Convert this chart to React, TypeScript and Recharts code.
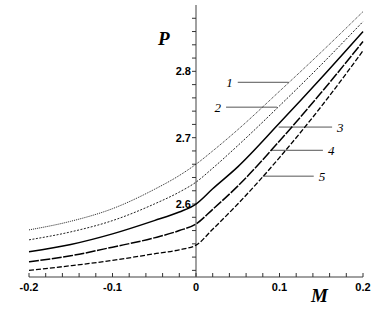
import { LineChart, Line, XAxis, YAxis, ReferenceLine } from 'recharts';

// Mach number (M) and the pressure curves P for the five cases
const mValues = [-0.2, -0.15, -0.1, -0.05, -0.02, 0, 0.02, 0.05, 0.1, 0.15, 0.2];
const curve1 = [2.561, 2.574, 2.593, 2.622, 2.643, 2.66, 2.68, 2.712, 2.77, 2.829, 2.89];
const curve2 = [2.546, 2.558, 2.575, 2.6, 2.618, 2.633, 2.654, 2.688, 2.748, 2.81, 2.875];
const curve3 = [2.528, 2.539, 2.555, 2.575, 2.588, 2.6, 2.623, 2.656, 2.722, 2.79, 2.86];
const curve4 = [2.513, 2.522, 2.535, 2.549, 2.56, 2.57, 2.592, 2.627, 2.695, 2.768, 2.845];
const curve5 = [2.5, 2.507, 2.515, 2.525, 2.531, 2.538, 2.562, 2.6, 2.67, 2.747, 2.831];

const xTicks = [-0.2, -0.18, -0.16, -0.14, -0.12, -0.1, -0.08, -0.06, -0.04, -0.02, 0, 0.02, 0.04, 0.06, 0.08, 0.1, 0.12, 0.14, 0.16, 0.18, 0.2];
const yTicks = [2.5, 2.52, 2.54, 2.56, 2.58, 2.6, 2.62, 2.64, 2.66, 2.68, 2.7, 2.72, 2.74, 2.76, 2.78, 2.8, 2.82, 2.84, 2.86, 2.88];
const xLabels = ['-0.2', '-0.1', '0', '0.1', '0.2'];
const yLabels = ['2.6', '2.7', '2.8'];

// leader lines of the curve numbers: [label, mStart, mEnd, P, side]
const leaders: [string, number, number, number, 'left' | 'right'][] = [
  ['1', 0.05, 0.111, 2.7835, 'left'],
  ['2', 0.036, 0.097, 2.746, 'left'],
  ['3', 0.099, 0.163, 2.716, 'right'],
  ['4', 0.09, 0.152, 2.681, 'right'],
  ['5', 0.08, 0.141, 2.642, 'right'],
];

const data = mValues.map((m, i) => ({
  m,
  c1: curve1[i],
  c2: curve2[i],
  c3: curve3[i],
  c4: curve4[i],
  c5: curve5[i],
}));

const AXIS_GRAY = '#808080';
const TICK_FONT = '"Liberation Sans", Arial, sans-serif';
const TICK_LEN = 0.0048; // 4px in M units

function fmtX(v: number) {
  if (Math.abs(v) < 1e-9) return '0';
  return v.toFixed(1);
}

function XTick(props: any) {
  const { x, y, payload } = props;
  const label = fmtX(payload.value);
  const major = xLabels.includes(label) && Math.abs(payload.value * 10 - Math.round(payload.value * 10)) < 1e-6;
  return (
    <g>
      <line x1={x} x2={x} y1={y} y2={y - 4} stroke="#333" strokeWidth={1} />
      {major && (
        <text x={x} y={y + 14} textAnchor="middle" fontFamily={TICK_FONT} fontWeight="bold" fontSize={11} fill="#000">
          {label}
        </text>
      )}
    </g>
  );
}

export default function App() {
  return (
    <div style={{ position: 'absolute', left: 0, top: 0, background: '#fff' }}>
      <LineChart width={383} height={314} data={data} margin={{ top: 5, right: 20, bottom: 7, left: 29 }}>
        <XAxis
          dataKey="m"
          type="number"
          domain={[-0.2, 0.2]}
          ticks={xTicks}
          interval={0}
          height={30}
          tickSize={0}
          tickMargin={0}
          tickLine={false}
          axisLine={{ stroke: AXIS_GRAY, strokeWidth: 1.5 }}
          tick={<XTick />}
        />
        <YAxis type="number" domain={[2.49, 2.9]} hide />
        <ReferenceLine x={0} stroke={AXIS_GRAY} strokeWidth={1.5} />
        {yTicks.map((v) => {
          const label = v.toFixed(1);
          const major = yLabels.includes(label) && Math.abs(v * 10 - Math.round(v * 10)) < 1e-6;
          return (
            <ReferenceLine
              key={'yt' + v}
              segment={[{ x: -TICK_LEN, y: v }, { x: 0, y: v }]}
              stroke="#333"
              strokeWidth={1}
              label={
                major
                  ? {
                      value: label,
                      position: 'left',
                      offset: 1,
                      fill: '#000',
                      fontSize: 11,
                      fontWeight: 'bold',
                      fontFamily: TICK_FONT,
                    }
                  : undefined
              }
            />
          );
        })}
        {leaders.map(([label, m0, m1, p, side]) => (
          <ReferenceLine
            key={label}
            segment={[{ x: m0, y: p }, { x: m1, y: p }]}
            stroke="#555"
            strokeWidth={1}
            label={{
              value: label,
              position: side,
              offset: 5,
              fill: '#000',
              fontSize: 13,
              fontStyle: 'italic',
              fontFamily: '"Liberation Serif", "Times New Roman", serif',
            }}
          />
        ))}
        <Line dataKey="c1" type="monotone" dot={false} stroke="#222" strokeWidth={1} strokeDasharray="1 1" isAnimationActive={false} />
        <Line dataKey="c2" type="monotone" dot={false} stroke="#222" strokeWidth={1} strokeDasharray="2 1.5" isAnimationActive={false} />
        <Line dataKey="c3" type="monotone" dot={false} stroke="#000" strokeWidth={1.5} isAnimationActive={false} />
        <Line dataKey="c4" type="monotone" dot={false} stroke="#000" strokeWidth={1.5} strokeDasharray="10 1.5" isAnimationActive={false} />
        <Line dataKey="c5" type="monotone" dot={false} stroke="#000" strokeWidth={1.3} strokeDasharray="5 2" isAnimationActive={false} />
      </LineChart>
      <div
        style={{
          position: 'absolute',
          left: 158,
          top: 28,
          fontFamily: '"Liberation Serif", "Times New Roman", serif',
          fontStyle: 'italic',
          fontWeight: 'bold',
          fontSize: 19,
        }}
      >
        P
      </div>
      <div
        style={{
          position: 'absolute',
          left: 311,
          top: 285,
          fontFamily: '"Liberation Serif", "Times New Roman", serif',
          fontStyle: 'italic',
          fontWeight: 'bold',
          fontSize: 19,
        }}
      >
        M
      </div>
    </div>
  );
}
